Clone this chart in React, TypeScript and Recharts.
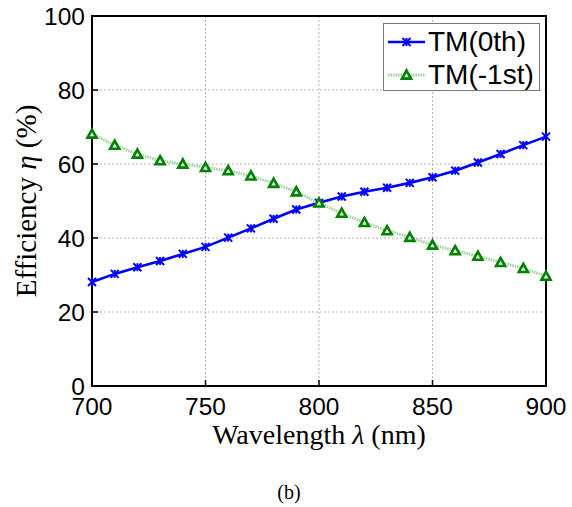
import React from 'react';
import { LineChart, Line, XAxis, YAxis, CartesianGrid, ReferenceArea, Legend, Label } from 'recharts';

const wavelengths = [700, 710, 720, 730, 740, 750, 760, 770, 780, 790, 800, 810, 820, 830, 840, 850, 860, 870, 880, 890, 900];
const tm0 = [28.1, 30.3, 32.1, 33.8, 35.7, 37.6, 40.1, 42.6, 45.2, 47.7, 49.5, 51.2, 52.5, 53.6, 54.9, 56.4, 58.2, 60.4, 62.7, 65.1, 67.4];
const tm1 = [68.1, 65.1, 62.7, 60.9, 60.0, 59.1, 58.2, 56.8, 54.8, 52.5, 49.5, 46.7, 44.2, 42.0, 40.2, 38.1, 36.6, 35.1, 33.4, 31.8, 29.7];
const xTicks = [700, 750, 800, 850, 900];
const yTicks = [0, 20, 40, 60, 80, 100];
const seriesNames = ['TM(0th)', 'TM(-1st)'];

const data = wavelengths.map((w, i) => ({ w, tm0: tm0[i], tm1: tm1[i] }));

const SANS = '"Liberation Sans", Arial, sans-serif';
const SERIF = '"Liberation Serif", "Times New Roman", serif';
const BLUE = '#0000ff';
const GREEN = '#008000';
const LIGHTGREEN = '#9fd39f';

const BottomTick = (p: any) => (
  <g>
    <line x1={p.x} y1={p.y} x2={p.x} y2={p.y - 6} stroke="#000" strokeWidth={1.5} />
    <text x={p.x} y={p.y + 29} textAnchor="middle" fontFamily={SANS} fontSize={24.5} fill="#000">{p.payload.value}</text>
  </g>
);
const TopTick = (p: any) => (
  <line x1={p.x} y1={p.y} x2={p.x} y2={p.y + 6} stroke="#000" strokeWidth={1.5} />
);
const LeftTick = (p: any) => (
  <g>
    <line x1={p.x} y1={p.y} x2={p.x + 6} y2={p.y} stroke="#000" strokeWidth={1.5} />
    <text x={p.x - 7} y={p.y + 8.5} textAnchor="end" fontFamily={SANS} fontSize={24.5} fill="#000">{p.payload.value}</text>
  </g>
);
const RightTick = (p: any) => (
  <line x1={p.x} y1={p.y} x2={p.x - 6} y2={p.y} stroke="#000" strokeWidth={1.5} />
);

const StarDot = (p: any) => {
  const { cx, cy, index } = p;
  if (cx == null || cy == null) return <g key={index} />;
  const r = 4;
  return (
    <g key={`s${index}`} stroke={BLUE} strokeWidth={2}>
      <line x1={cx - r} y1={cy - r} x2={cx + r} y2={cy + r} />
      <line x1={cx - r} y1={cy + r} x2={cx + r} y2={cy - r} />
      <line x1={cx} y1={cy - r} x2={cx} y2={cy + r} />
    </g>
  );
};

const TriDot = (p: any) => {
  const { cx, cy, index } = p;
  if (cx == null || cy == null) return <g key={index} />;
  const s = 4.5;
  return (
    <polygon
      key={`t${index}`}
      points={`${cx},${cy - s} ${cx + s},${cy + s * 0.8} ${cx - s},${cy + s * 0.8}`}
      fill="#e8f5e8"
      stroke={GREEN}
      strokeWidth={2.6}
      strokeLinejoin="miter"
    />
  );
};

const XTitle = (props: any) => {
  const vb = props.viewBox || { x: 92, y: 386, width: 454 };
  const cx = vb.x + vb.width / 2;
  return (
    <g>
      <text x={cx} y={vb.y + 58} textAnchor="middle" fontFamily={SERIF} fontSize={28} fill="#000">
        Wavelength <tspan fontStyle="italic">λ</tspan> (nm)
      </text>
      <text x={cx - 30} y={vb.y + 113} textAnchor="middle" fontFamily={SERIF} fontSize={20} fill="#000">(b)</text>
    </g>
  );
};

const YTitle = (props: any) => {
  const vb = props.viewBox || { x: 0, y: 16, width: 92, height: 370 };
  const cy = vb.y + vb.height / 2;
  const x = 36;
  return (
    <text x={x} y={cy} transform={`rotate(-90 ${x} ${cy})`} textAnchor="middle" fontFamily={SERIF} fontSize={29} fill="#000">
      Efficiency <tspan fontStyle="italic">η</tspan> (%)
    </text>
  );
};

const LegendBox = () => (
  <div
    style={{
      border: '1px solid #777',
      background: '#fff',
      width: 157,
      height: 68,
      boxSizing: 'border-box',
      fontFamily: SANS,
      fontSize: 28,
      lineHeight: '33px',
      paddingTop: 1,
    }}
  >
    <div style={{ display: 'flex', alignItems: 'center', height: 33 }}>
      <svg width={44} height={33} style={{ display: 'block' }}>
        <line x1={4} y1={17} x2={41} y2={17} stroke={BLUE} strokeWidth={2.5} />
        <g stroke={BLUE} strokeWidth={2}>
          <line x1={18.5} y1={13} x2={26.5} y2={21} />
          <line x1={18.5} y1={21} x2={26.5} y2={13} />
          <line x1={22.5} y1={13} x2={22.5} y2={21} />
        </g>
      </svg>
      <span>{seriesNames[0]}</span>
    </div>
    <div style={{ display: 'flex', alignItems: 'center', height: 33 }}>
      <svg width={44} height={33} style={{ display: 'block' }}>
        <line x1={4} y1={17} x2={41} y2={17} stroke={LIGHTGREEN} strokeWidth={3} strokeDasharray="1.5 1" />
        <polygon points="22.5,12.5 27,20.6 18,20.6" fill="#e8f5e8" stroke={GREEN} strokeWidth={2.6} />
      </svg>
      <span>{seriesNames[1]}</span>
    </div>
  </div>
);

export default function App() {
  return (
    <div style={{ position: 'absolute', left: 0, top: 0, width: 572, height: 507, background: '#fff' }}>
      <LineChart width={572} height={507} data={data} margin={{ top: 16, right: 26, left: 0, bottom: 0 }}>
        <CartesianGrid stroke="#b5b5b5" strokeDasharray="2 2" strokeWidth={1} />
        <XAxis
          dataKey="w"
          type="number"
          domain={[700, 900]}
          ticks={xTicks}
          height={121}
          tickSize={0}
          tickMargin={0}
          axisLine={false}
          tickLine={false}
          tick={BottomTick}
          interval={0}
        >
          <Label content={XTitle} />
        </XAxis>
        <XAxis
          xAxisId="top"
          orientation="top"
          dataKey="w"
          type="number"
          domain={[700, 900]}
          ticks={xTicks}
          height={0}
          tickSize={0}
          tickMargin={0}
          axisLine={false}
          tickLine={false}
          tick={TopTick}
          interval={0}
        />
        <YAxis
          type="number"
          domain={[0, 100]}
          ticks={yTicks}
          width={92}
          tickSize={0}
          tickMargin={0}
          axisLine={false}
          tickLine={false}
          tick={LeftTick}
          interval={0}
        >
          <Label content={YTitle} />
        </YAxis>
        <YAxis
          yAxisId="right"
          orientation="right"
          type="number"
          domain={[0, 100]}
          ticks={yTicks}
          width={0}
          tickSize={0}
          tickMargin={0}
          axisLine={false}
          tickLine={false}
          tick={RightTick}
          interval={0}
        />
        <Line
          type="linear"
          dataKey="tm0"
          name={seriesNames[0]}
          stroke={BLUE}
          strokeWidth={2.6}
          dot={StarDot}
          activeDot={false}
          isAnimationActive={false}
        />
        <Line
          type="linear"
          dataKey="tm1"
          name={seriesNames[1]}
          stroke={LIGHTGREEN}
          strokeWidth={3}
          strokeDasharray="1.5 1"
          dot={TriDot}
          activeDot={false}
          isAnimationActive={false}
        />
        <ReferenceArea x1={700} x2={900} y1={0} y2={100} fill="none" stroke="#000" strokeWidth={2} ifOverflow="visible" />
        <Legend
          layout="horizontal"
          align="center"
          verticalAlign="middle"
          content={LegendBox}
          wrapperStyle={{ position: 'absolute', left: 383, top: 23, width: 157, height: 68 }}
        />
      </LineChart>
    </div>
  );
}
